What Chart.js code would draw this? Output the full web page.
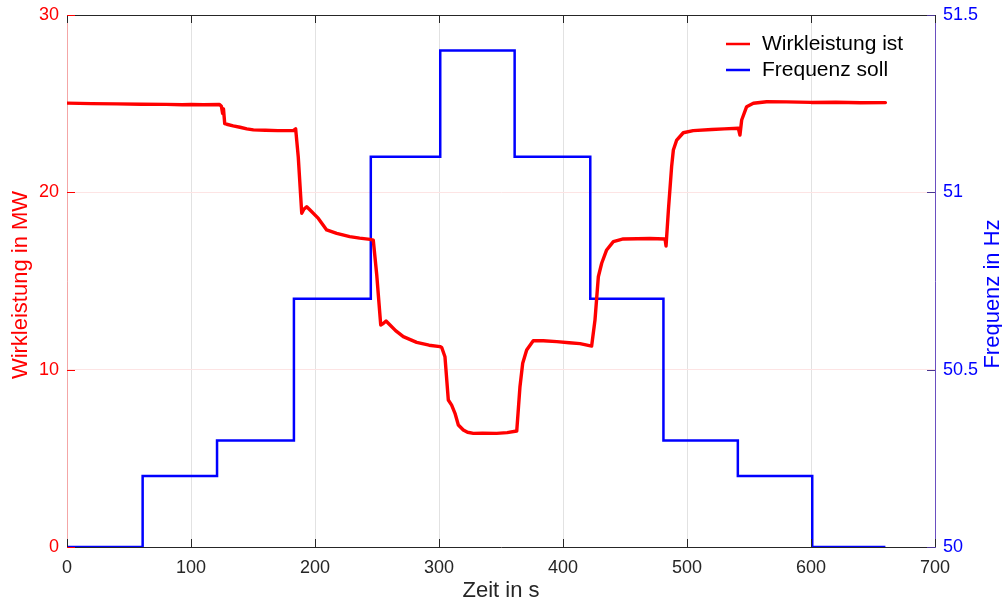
<!DOCTYPE html>
<html>
<head>
<meta charset="utf-8">
<script src="https://cdn.jsdelivr.net/npm/chart.js@4.4.1/dist/chart.umd.min.js"></script>
<style>
  html, body { margin: 0; padding: 0; background: #fff; }
  #wrap { width: 1002px; height: 601px; }
</style>
</head>
<body>
<div id="wrap"><canvas id="chart" width="1002" height="601"></canvas></div>
<script>
// Wirkleistung ist (MW) over time (s)
const powerTime = [0, 20, 40, 60, 80, 93, 100, 110, 123, 124.5, 125.5, 126.2, 127.2, 128.8, 134, 139.5, 145, 150.3, 160, 170, 182.5, 184.4, 186.5, 189.3, 191, 193.3, 196, 202.7, 209.4, 217.5, 228, 236, 244.4, 247, 249.8, 253, 255, 257.3, 260.5, 265, 271.2, 282, 292, 300.8, 302.2, 304.8, 307.5, 310.2, 312.9, 315.6, 319.6, 323, 327.7, 335, 346.5, 355, 362.7, 365.3, 367.5, 370.7, 376, 384.1, 395, 405, 413.7, 423.1, 425.8, 428.5, 431.2, 435.2, 440.6, 448.6, 460, 470, 482.3, 483.1, 485, 487.6, 489, 491.7, 497, 505, 520, 530, 541.4, 542.7, 544.1, 548.1, 553.5, 564.2, 580, 600, 620, 640, 660]
const powerMW = [25.03, 25.0, 24.99, 24.97, 24.96, 24.94, 24.95, 24.94, 24.95, 24.85, 24.45, 24.7, 23.88, 23.84, 23.75, 23.67, 23.58, 23.52, 23.5, 23.48, 23.48, 23.58, 22.0, 18.82, 19.05, 19.19, 19.0, 18.53, 17.88, 17.69, 17.5, 17.42, 17.35, 17.3, 15.34, 12.52, 12.6, 12.74, 12.52, 12.2, 11.86, 11.54, 11.38, 11.3, 11.25, 10.73, 8.29, 8.0, 7.54, 6.88, 6.6, 6.47, 6.41, 6.42, 6.41, 6.45, 6.54, 9.04, 10.36, 11.11, 11.63, 11.63, 11.58, 11.52, 11.47, 11.33, 12.8, 15.24, 16.0, 16.75, 17.22, 17.37, 17.38, 17.4, 17.37, 16.97, 19.0, 21.45, 22.39, 22.95, 23.36, 23.48, 23.54, 23.58, 23.61, 23.23, 24.08, 24.83, 25.02, 25.11, 25.1, 25.07, 25.08, 25.05, 25.06]

// Frequenz soll (Hz), stepped
const freqTime = [0, 61, 121, 183, 245, 301, 361, 422, 481, 541, 601, 660]
const freqHz = [50, 50.2, 50.3, 50.7, 51.1, 51.4, 51.1, 50.7, 50.3, 50.2, 50, 50]

const xTitle = 'Zeit in s'
const yTitle = 'Wirkleistung in MW'
const y1Title = 'Frequenz in Hz'

const FONT = '"Liberation Sans", Arial, sans-serif'
const RED = '#ff0000'
const BLUE = '#0000ff'

function pairs(xs, ys){ return xs.map((x,i)=>({x:x, y:ys[i]})) }

// inward tick marks, top frame, titles and legend
const decor = {
  id: 'decor',
  afterDraw(chart){
    const c = chart.ctx
    const a = chart.chartArea
    const sx = chart.scales.x, sy = chart.scales.y, sy1 = chart.scales.y1
    c.save()
    c.lineWidth = 1
    // top frame
    c.strokeStyle = '#262626'
    c.beginPath(); c.moveTo(a.left, a.top + 0.5); c.lineTo(a.right, a.top + 0.5); c.stroke()
    // x ticks inward, bottom and top
    sx.ticks.forEach(t => {
      const px = Math.round(sx.getPixelForValue(t.value)) + 0.5
      c.beginPath()
      c.moveTo(px, a.bottom); c.lineTo(px, a.bottom - 8)
      c.moveTo(px, a.top); c.lineTo(px, a.top + 8)
      c.stroke()
    })
    c.strokeStyle = RED
    sy.ticks.forEach(t => {
      const py = Math.round(sy.getPixelForValue(t.value)) + 0.5
      c.beginPath(); c.moveTo(a.left, py); c.lineTo(a.left + 8, py); c.stroke()
    })
    c.strokeStyle = '#4a3590'
    sy1.ticks.forEach(t => {
      const py = Math.round(sy1.getPixelForValue(t.value)) + 0.5
      c.beginPath(); c.moveTo(a.right, py); c.lineTo(a.right - 8, py); c.stroke()
    })

    // axis titles
    c.font = '22px ' + FONT
    c.textAlign = 'center'
    c.textBaseline = 'middle'
    c.fillStyle = '#262626'
    c.fillText(xTitle, (a.left + a.right) / 2, 591)
    const midY = (a.top + a.bottom) / 2
    c.save(); c.translate(21, midY + 4); c.rotate(-Math.PI/2)
    c.fillStyle = RED; c.fillText(yTitle, 0, 0); c.restore()
    c.save(); c.translate(993, midY + 13); c.rotate(-Math.PI/2)
    c.fillStyle = BLUE; c.fillText(y1Title, 0, 0); c.restore()

    // legend
    c.font = '21px ' + FONT
    c.textAlign = 'left'
    chart.data.datasets.forEach((ds, i) => {
      const ly = 44 + i * 26
      c.strokeStyle = ds.borderColor
      c.lineWidth = 2.5
      c.beginPath(); c.moveTo(726, ly); c.lineTo(750, ly); c.stroke()
      c.fillStyle = '#000'
      c.fillText(ds.label, 762, ly)
    })
    c.restore()
  }
}

function fixX(s){ s.height = 54; s.paddingLeft = 0; s.paddingRight = 0 }
function fixY(s){ s.width = 67; s.paddingTop = 0; s.paddingBottom = 0 }

new Chart(document.getElementById('chart').getContext('2d'), {
  type: 'line',
  data: {
    datasets: [
      { label: 'Wirkleistung ist', data: pairs(powerTime, powerMW), yAxisID: 'y',
        borderColor: RED, borderWidth: 3.4, borderJoinStyle: 'round', borderCapStyle: 'round',
        pointRadius: 0, tension: 0, fill: false },
      { label: 'Frequenz soll', data: pairs(freqTime, freqHz), yAxisID: 'y1',
        borderColor: BLUE, borderWidth: 2.5, pointRadius: 0, stepped: true, fill: false }
    ]
  },
  options: {
    responsive: false,
    animation: false,
    layout: { padding: { top: 15, left: 0, right: 0, bottom: 0 } },
    plugins: { legend: { display: false }, tooltip: { enabled: false } },
    scales: {
      x: {
        type: 'linear', min: 0, max: 700,
        ticks: { stepSize: 100, color: '#262626', padding: 10, maxRotation: 0, font: { family: FONT, size: 18 } },
        grid: { color: '#e2e2e2', drawTicks: false },
        border: { color: '#262626' },
        afterFit: fixX
      },
      y: {
        position: 'left', min: 0, max: 30,
        ticks: { stepSize: 10, color: RED, padding: 8, font: { family: FONT, size: 18 } },
        grid: { color: '#fde4e4', drawTicks: false },
        border: { color: '#f4a6a6' },
        afterFit: fixY
      },
      y1: {
        position: 'right', min: 50, max: 51.5,
        ticks: { stepSize: 0.5, color: BLUE, padding: 8, font: { family: FONT, size: 18 },
          callback: v => String(v) },
        grid: { drawOnChartArea: false, drawTicks: false },
        border: { color: '#6a4fc0' },
        afterFit: fixY
      }
    }
  },
  plugins: [decor]
})
</script>
</body>
</html>
